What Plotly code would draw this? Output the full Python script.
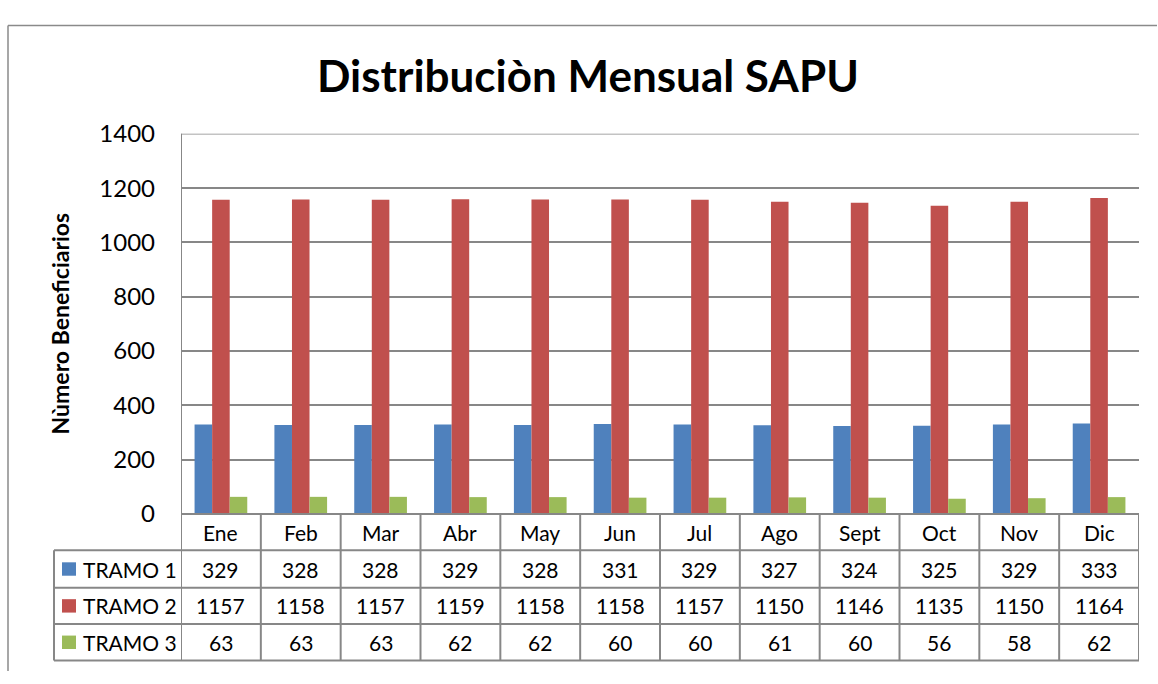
import plotly.graph_objects as go

# Monthly beneficiaries per bracket
meses = ["Ene", "Feb", "Mar", "Abr", "May", "Jun", "Jul", "Ago", "Sept", "Oct", "Nov", "Dic"]
tramo1 = [329, 328, 328, 329, 328, 331, 329, 327, 324, 325, 329, 333]
tramo2 = [1157, 1158, 1157, 1159, 1158, 1158, 1157, 1150, 1146, 1135, 1150, 1164]
tramo3 = [63, 63, 63, 62, 62, 60, 60, 61, 60, 56, 58, 62]
series_names = ["TRAMO 1", "TRAMO 2", "TRAMO 3"]
series_colors = ["#4F81BD", "#C0504D", "#9BBB59"]
y_ticks = [0, 200, 400, 600, 800, 1000, 1200, 1400]

W, H = 1158, 684
FONT = "Lato"
GRID = "#878787"


def px(x):
    return x / W


def py(y):
    return 1 - y / H


# plot area in pixels
PL, PR, PT, PB = 181, 1139, 123, 520
# data-table row boundaries (pixels)
rows_y = [520, 558, 597, 635, 673]
TL = 54  # left edge of the series-name column

fig = go.Figure()
x_idx = list(range(len(meses)))
for name, vals, col in zip(series_names, [tramo1, tramo2, tramo3], series_colors):
    fig.add_trace(go.Bar(x=x_idx, y=vals, name=name, marker=dict(color=col, line=dict(width=0)),
                         hoverinfo="y"))

shapes = []
annotations = []
line = dict(color=GRID, width=2)

# chart outer frame (left and top edges)
shapes.append(dict(type="line", xref="paper", yref="paper", x0=px(8), x1=px(8), y0=py(10), y1=py(684),
                   line=dict(color="#8a8a8a", width=1.5)))
shapes.append(dict(type="line", xref="paper", yref="paper", x0=px(8), x1=px(1157), y0=py(10), y1=py(10),
                   line=dict(color="#8a8a8a", width=1.5)))

# top gridline of the value axis
shapes.append(dict(type="line", xref="x", yref="y", x0=-0.5, x1=len(meses) - 0.5,
                   y0=y_ticks[-1], y1=y_ticks[-1], line=dict(color=GRID, width=1.5)))

# table horizontal rules
shapes.append(dict(type="line", xref="x", yref="paper", x0=-0.5, x1=len(meses) - 0.5,
                   y0=py(rows_y[0]), y1=py(rows_y[0]), line=line))
for yy in rows_y[1:]:
    shapes.append(dict(type="line", xref="paper", yref="paper", x0=px(TL), x1=px(PR),
                       y0=py(yy), y1=py(yy), line=line))
# table vertical rules
shapes.append(dict(type="line", xref="paper", yref="paper", x0=px(TL), x1=px(TL),
                   y0=py(rows_y[1]), y1=py(rows_y[-1]), line=line))
for k in range(len(meses) + 1):
    shapes.append(dict(type="line", xref="x", yref="paper", x0=k - 0.5, x1=k - 0.5,
                       y0=py(rows_y[0] if k > 0 else PT), y1=py(rows_y[-1]), line=line))

cell_font = dict(family=FONT, size=21, color="#000000")
# month header row
for i, m in enumerate(meses):
    annotations.append(dict(x=i, y=py((rows_y[0] + rows_y[1]) / 2), xref="x", yref="paper", text=m,
                            showarrow=False, font=cell_font, xanchor="center", yanchor="middle"))
# series rows with legend keys
for r, (name, vals, col) in enumerate(zip(series_names, [tramo1, tramo2, tramo3], series_colors)):
    yc = (rows_y[r + 1] + rows_y[r + 2]) / 2
    shapes.append(dict(type="rect", xref="paper", yref="paper", x0=px(62), x1=px(76),
                       y0=py(yc - 7), y1=py(yc + 7), fillcolor=col, line=dict(width=0)))
    annotations.append(dict(x=px(81), y=py(yc), xref="paper", yref="paper", text=name, showarrow=False,
                            font=cell_font, xanchor="left", yanchor="middle"))
    for i, v in enumerate(vals):
        annotations.append(dict(x=i, y=py(yc), xref="x", yref="paper", text=str(v), showarrow=False,
                                font=cell_font, xanchor="center", yanchor="middle"))

# title and y-axis title
annotations.append(dict(x=px(588), y=py(62), xref="paper", yref="paper",
                        text="<b>Distribuciòn Mensual SAPU</b>", showarrow=False,
                        font=dict(family=FONT, size=44, color="#000000"), xanchor="center", yanchor="middle"))
annotations.append(dict(x=px(60), y=py(321), xref="paper", yref="paper",
                        text="<b>Nùmero Beneficiarios</b>", showarrow=False, textangle=-90,
                        font=dict(family=FONT, size=23, color="#000000"), xanchor="center", yanchor="middle"))

fig.update_layout(
    width=W, height=H,
    margin=dict(l=0, r=0, t=0, b=0),
    paper_bgcolor="white", plot_bgcolor="white",
    barmode="group", bargap=0.34, bargroupgap=0,
    showlegend=False,
    xaxis=dict(domain=[px(PL), px(PR)], range=[-0.5, len(meses) - 0.5], showticklabels=False,
               showgrid=False, zeroline=False, showline=False, ticks="", fixedrange=True),
    yaxis=dict(domain=[py(PB), py(PT)], range=[0, 1400], tickvals=y_ticks,
               showgrid=True, gridcolor=GRID, gridwidth=1.5, zeroline=False, showline=False,
               ticks="", ticklabelstandoff=25,
               tickfont=dict(family=FONT, size=24, color="#000000")),
    shapes=shapes,
    annotations=annotations,
)

fig.write_html("out.html")
